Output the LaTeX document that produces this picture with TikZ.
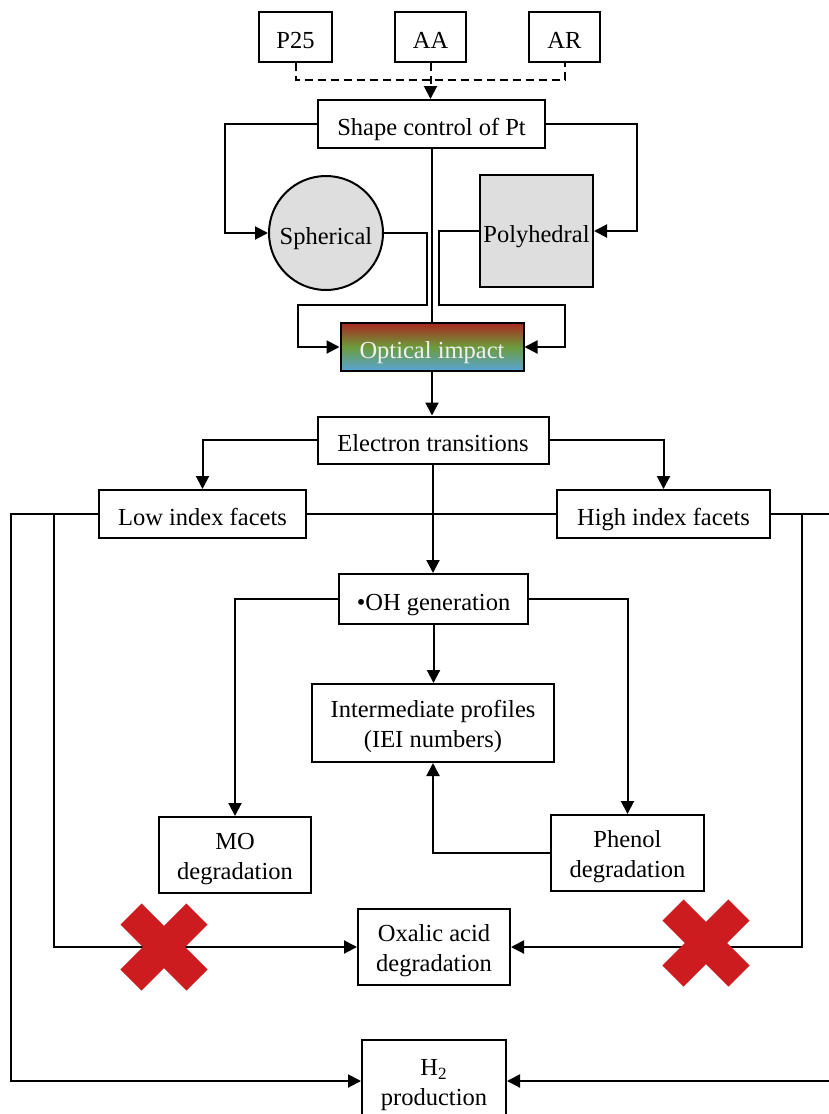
\documentclass[tikz,border=0pt]{standalone}
\usepackage{fontspec}
\setmainfont{Liberation Serif}
\usetikzlibrary{arrows.meta}
\definecolor{grayfill}{HTML}{DEDEDE}
\definecolor{xred}{HTML}{CC1C1F}
\definecolor{optred}{HTML}{A8281E}
\definecolor{optgreen}{HTML}{6C9C3C}
\definecolor{optblue}{HTML}{58A4D8}
\begin{document}
\begin{tikzpicture}[x=0.5pt,y=-0.5pt,
  every node/.style={font=\fontsize{12.25}{15}\selectfont},
  box/.style={draw,line width=1pt,inner sep=0pt,align=center,text height=13pt,text depth=2pt},
  box2/.style={draw,line width=1pt,inner sep=0pt,align=center,text height=27pt,text depth=2.5pt},
  conn/.style={line width=1pt},
  arr/.style={line width=1pt,-{Triangle[length=6.5pt,width=6.5pt]}},
  xmark/.style={line width=15pt,xred}]
\useasboundingbox (0,0) rectangle (829,1114);
% nodes
\node[box,minimum width=36.5pt,minimum height=25pt] (P25) at (295.5,37) {P25};
\node[box,minimum width=35.5pt,minimum height=25pt] (AA) at (430.5,37) {AA};
\node[box,minimum width=35.5pt,minimum height=25pt] (AR) at (564.5,37) {AR};
\node[box,minimum width=113.5pt,minimum height=24pt] (Shape) at (431.5,124) {Shape control of Pt};
\node[box,circle,fill=grayfill,minimum size=57pt] (Sph) at (326,233) {Spherical};
\node[box,fill=grayfill,minimum width=56.5pt,minimum height=56pt] (Poly) at (536.5,231) {Polyhedral};
\node[box,top color=optred,bottom color=optblue,middle color=optgreen,text=white!94!black,minimum width=91.5pt,minimum height=24pt] (Opt) at (432,347) {Optical impact};
\node[box,minimum width=115.5pt,minimum height=23.5pt] (Elec) at (433,440) {Electron transitions};
\node[box,minimum width=103.5pt,minimum height=24pt] (Low) at (202.5,514) {Low index facets};
\node[box,minimum width=106.5pt,minimum height=24pt] (High) at (663.5,514) {High index facets};
\node[box,minimum width=94.5pt,minimum height=25pt] (OH) at (433.5,599) {•OH generation};
\node[box2,minimum width=121pt,minimum height=39pt] (Int) at (433,723) {Intermediate profiles\\(IEI numbers)};
\node[box2,minimum width=76pt,minimum height=38pt] (MO) at (235,855) {MO\\degradation};
\node[box2,minimum width=76.5pt,minimum height=38pt] (Phen) at (627.5,853) {Phenol\\degradation};
\node[box2,minimum width=76pt,minimum height=38pt] (Ox) at (434,947) {Oxalic acid\\degradation};
\node[box2,minimum width=72pt,minimum height=41pt] (H2) at (434,1081) {H\textsubscript{2}\\production};
% connectors
\draw[conn,dash pattern=on 4pt off 2.5pt] (P25.south) -- ++(0,17) -| (AR.south);
\draw[arr,dash pattern=on 4pt off 2.5pt] (AA.south) -- (AA.south |- Shape.north);
\draw[arr] (Shape.west) -- ++(-92,0) |- (Sph.west);
\draw[arr] (Shape.east) -- ++(91,0) |- (Poly.east);
\draw[conn] (Shape.south) -- (Shape.south |- Opt.north);
\draw[arr] (Sph.east) -- ++(43,0) -- ++(0,72) -- ++(-129,0) |- (Opt.west);
\draw[arr] (Poly.west) -- ++(-40,0) -- ++(0,74) -- ++(126,0) |- (Opt.east);
\draw[arr] (Opt.south) -- (Opt.south |- Elec.north);
\draw[arr] (Elec.west) -| (Low.north);
\draw[arr] (Elec.east) -| (High.north);
\draw[conn] (Low.east) -- (High.west);
\draw[arr] (Elec.south) -- (Elec.south |- OH.north);
\draw[arr] (Low.west) -- ++(-87,0) |- (H2.west);
\draw[arr] (Low.west) -- ++(-44,0) |- (Ox.west);
\draw[arr] (High.east) -- ++(31,0) |- (Ox.east);
\draw[arr] (High.east) -- ++(66,0) |- (H2.east);
\draw[arr] (OH.west) -| (MO.north);
\draw[arr] (OH.east) -| (Phen.north);
\draw[arr] (OH.south) -- (OH.south |- Int.north);
\draw[arr] (Phen.west) -| (Int.south);
% red crosses
\draw[xmark] (131,914) -- (197,980);
\draw[xmark] (131,980) -- (197,914);
\draw[xmark] (673,910) -- (739,976);
\draw[xmark] (673,976) -- (739,910);
\end{tikzpicture}
\end{document}
